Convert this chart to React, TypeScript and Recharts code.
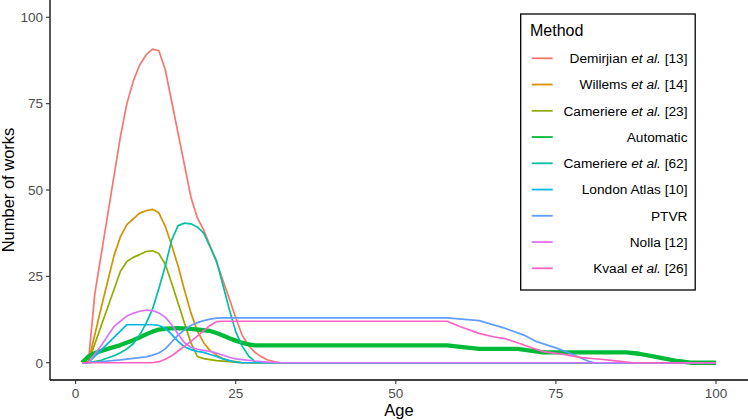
import React from 'react';
import { LineChart, Line, XAxis, YAxis, Label } from 'recharts';

const methodNames = [
  'Demirjian et al. [13]',
  'Willems et al. [14]',
  'Cameriere et al. [23]',
  'Automatic',
  'Cameriere et al. [62]',
  'London Atlas [10]',
  'PTVR',
  'Nolla [12]',
  'Kvaal et al. [26]',
];
const methodColors = ['#F8766D', '#D39200', '#93AA00', '#00BA38', '#00C19F', '#00B9E3', '#619CFF', '#DB72FB', '#FF61C3'];
const xTicks = [0, 25, 50, 75, 100];
const yTicks = [0, 25, 50, 75, 100];

// [age, number of works]
const demirjian: number[][] = [
  [1, 0], [2, 0.3], [3, 20], [7, 65.5], [8, 75], [9, 81.5], [10, 86.2], [11, 89.1], [12, 90.8], [13, 90.3],
  [14, 84.8], [18, 48], [19, 42], [20, 38.4], [22, 29.2], [24, 18.5], [25, 13], [26, 8], [27, 5], [28, 3],
  [29, 1.7], [30, 0.8], [31, 0.3], [32, 0], [100, 0],
];
const willems: number[][] = [
  [1, 0], [2, 0.3], [4, 16], [6, 31], [7, 36.5], [8, 40], [10, 43.3], [11, 44], [12, 44.4], [13, 43.4],
  [14, 39.5], [15, 34], [16, 28], [17, 21], [18, 14.5], [19, 9.2], [20, 5.8], [21, 3.5], [22, 2.2], [23, 1.2],
  [24, 0.6], [26, 0], [100, 0],
];
const cameriere23: number[][] = [
  [1, 0], [2, 0.2], [7, 26.5], [8, 29.3], [9, 30.5], [10, 31.3], [11, 32.2], [12, 32.4], [13, 31.6], [14, 28.5],
  [15, 23], [16, 17.3], [17, 11.4], [18, 5.8], [19, 1.8], [20, 1.2], [21, 0.9], [22, 0.6], [24, 0.3], [26, 0],
  [100, 0],
];
const automatic: number[][] = [
  [1, 0], [2, 1.8], [3, 2.8], [5, 4], [7, 5.1], [9, 6.5], [11, 8.2], [12, 9], [13, 9.6], [14, 9.9], [16, 10],
  [18, 9.8], [20, 9.4], [21, 9.2], [22, 8.6], [23, 7.9], [24, 7.1], [25, 6.4], [26, 5.8], [27, 5.3], [28, 5],
  [58, 5], [63, 4], [69, 4], [73, 3], [86, 3], [88, 2.6], [90, 1.9], [92, 1.2], [94, 0.5], [96, 0], [100, 0],
];
const cameriere62: number[][] = [
  [1, 0], [2, 0], [4, 0.7], [6, 2], [7, 2.9], [8, 4], [9, 5.5], [10, 8], [11, 11.4], [12, 15.5], [13, 21.5],
  [14, 28], [15, 35.5], [16, 39.7], [17, 40.4], [18, 40.2], [19, 39.3], [20, 37.5], [21, 33.5], [22, 29.5],
  [23, 22.5], [24, 15.5], [25, 9], [26, 4.8], [27, 2], [28, 0.3], [29, 0], [100, 0],
];
const londonAtlas: number[][] = [
  [1, 0], [2, 0], [8, 11], [12, 11], [13, 10.8], [14, 10], [15, 8.2], [16, 6.2], [17, 4.6], [18, 3.8], [19, 3.3],
  [20, 3], [21, 2.4], [22, 1.8], [23, 1.1], [24, 0.6], [25, 0.2], [26, 0], [100, 0],
];
const ptvr: number[][] = [
  [1, 0], [2, 0], [7, 0.8], [11, 1.7], [12, 2.2], [13, 2.8], [14, 4], [15, 6], [16, 8], [17, 9.5], [18, 10.8],
  [19, 11.6], [20, 12.2], [21, 12.6], [22, 12.9], [23, 13], [58, 13], [63, 12.2], [67, 10], [70, 8], [72, 6.1],
  [75, 4.3], [77, 2.9], [79, 1.3], [80, 0.5], [81, 0], [100, 0],
];
const nolla: number[][] = [
  [1, 0], [2, 0], [4, 5], [6, 10.5], [7, 12], [8, 13.5], [9, 14.3], [10, 14.9], [11, 15.2], [12, 15.1], [13, 14.4],
  [14, 13.2], [15, 11], [16, 8.3], [17, 5.8], [18, 4.5], [19, 3.9], [20, 3.6], [21, 3.3], [22, 2.8], [23, 2.2],
  [24, 1.6], [25, 1.1], [26, 0.9], [28, 0.5], [30, 0.2], [32, 0], [100, 0],
];
const kvaal: number[][] = [
  [1, 0], [12, 0], [13, 0.3], [14, 1], [15, 2], [16, 3.4], [17, 4.8], [18, 6.2], [19, 7.7], [20, 9.3], [21, 10.8],
  [22, 11.9], [23, 12], [58, 12], [60, 10.5], [63, 8.5], [65, 7.6], [67, 7], [69, 5.8], [71, 4.5], [73, 3.2],
  [76, 2.5], [79, 1.5], [82, 1], [84, 0.6], [87, 0], [100, 0],
];

const seriesValues = [demirjian, willems, cameriere23, automatic, cameriere62, londonAtlas, ptvr, nolla, kvaal];

const FONT = '"Liberation Sans", Arial, Helvetica, sans-serif';

function renderName(name: string) {
  const idx = name.indexOf('et al.');
  if (idx < 0) return name;
  return (
    <>
      {name.slice(0, idx)}
      <tspan fontStyle="italic">et al.</tspan>
      {name.slice(idx + 6)}
    </>
  );
}

function LegendBox() {
  return (
    <svg
      width={748}
      height={420}
      style={{ position: 'absolute', left: 0, top: 0, pointerEvents: 'none' }}
    >
      <rect x={520.7} y={14} width={174.5} height={276} fill="#fff" stroke="#000" strokeWidth={1.3} />
      <text x={530} y={36} fontSize={16} fill="#000" fontFamily={FONT}>
        Method
      </text>
      {methodNames.map((name, i) => {
        const cy = 58.3 + i * 26.25;
        return (
          <g key={name}>
            <line x1={531.7} x2={552.7} y1={cy} y2={cy} stroke={methodColors[i]} strokeWidth={1.8} />
            <text x={687.5} y={cy + 4.9} fontSize={13.7} textAnchor="end" fill="#000" fontFamily={FONT}>
              {renderName(name)}
            </text>
          </g>
        );
      })}
    </svg>
  );
}

export default function App() {
  const data = seriesValues.map((s) => s.map(([age, v]) => ({ age, v })));
  return (
    <div style={{ position: 'absolute', left: 0, top: 0, width: 748, height: 420, background: '#fff' }}>
      <LineChart width={748} height={420} margin={{ top: 0, right: 0, bottom: 0, left: 0 }}>
        <XAxis
          dataKey="age"
          type="number"
          domain={[-4, 105]}
          ticks={xTicks}
          allowDataOverflow
          height={40}
          axisLine={{ stroke: '#000', strokeWidth: 1.3 }}
          tickLine={{ stroke: '#333333', strokeWidth: 1.1 }}
          tickSize={4}
          tickMargin={4}
          tick={{ fill: '#4D4D4D', fontSize: 13.5, fontFamily: FONT }}
        >
          <Label value="Age" position="insideBottom" offset={4} fill="#000" fontSize={16.5} fontFamily={FONT} />
        </XAxis>
        <YAxis
          type="number"
          domain={[-5, 105]}
          ticks={yTicks}
          allowDataOverflow
          width={50}
          axisLine={{ stroke: '#000', strokeWidth: 1.3 }}
          tickLine={{ stroke: '#333333', strokeWidth: 1.1 }}
          tickSize={4}
          tickMargin={3}
          tick={{ fill: '#4D4D4D', fontSize: 13.5, fontFamily: FONT }}
        >
          <Label
            content={() => (
              <text
                x={14}
                y={190}
                transform="rotate(-90 14 190)"
                textAnchor="middle"
                fontSize={16.5}
                fill="#000"
                fontFamily={FONT}
              >
                Number of works
              </text>
            )}
          />
        </YAxis>
        {data.map((d, i) => (
          <Line
            key={methodNames[i]}
            data={d}
            dataKey="v"
            name={methodNames[i]}
            type="linear"
            stroke={methodColors[i]}
            strokeWidth={methodNames[i] === 'Automatic' ? 4.3 : 1.7}
            dot={false}
            activeDot={false}
            isAnimationActive={false}
            strokeLinejoin="round"
          />
        ))}
      </LineChart>
      <LegendBox />
    </div>
  );
}
